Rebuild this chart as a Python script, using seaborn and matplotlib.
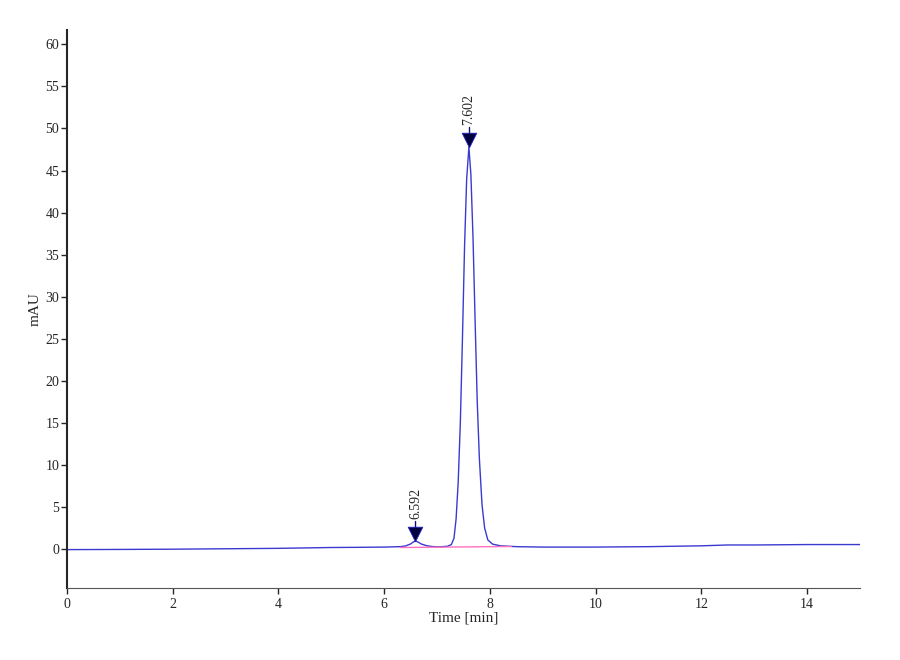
import matplotlib
matplotlib.use("Agg")
import matplotlib.pyplot as plt
import seaborn as sns
import pandas as pd

# chromatogram trace (time in min, signal in mAU)
time_min = [0.0, 1.0, 2.0, 3.0, 4.0, 5.0, 5.5, 6.0, 6.3, 6.4, 6.5, 6.55, 6.592,
            6.64, 6.7, 6.8, 6.9, 7.0, 7.1, 7.2, 7.27, 7.32, 7.36, 7.40, 7.44,
            7.48, 7.52, 7.56, 7.602, 7.64, 7.68, 7.72, 7.76, 7.80, 7.85, 7.90,
            7.96, 8.05, 8.2, 8.5, 9.0, 10.0, 11.0, 12.0, 12.5, 13.0, 14.0, 15.0]
signal_mau = [-0.05, -0.03, 0.0, 0.05, 0.1, 0.2, 0.22, 0.25, 0.3, 0.38, 0.62, 0.85, 0.98,
              0.85, 0.62, 0.42, 0.32, 0.28, 0.3, 0.35, 0.55, 1.3, 3.6, 8.0, 15.0,
              25.0, 36.0, 44.0, 47.8, 44.5, 37.0, 27.0, 17.5, 10.8, 5.3, 2.5,
              1.1, 0.6, 0.4, 0.3, 0.25, 0.25, 0.3, 0.4, 0.5, 0.5, 0.55, 0.55]

# integration baseline under the peaks
base_time = [6.3, 8.4]
base_mau = [0.2, 0.32]

# peak labels
peak_rt = [6.592, 7.602]
peak_top = [0.98, 47.8]
peak_labels = ["6.592", "7.602"]

df = pd.DataFrame({"Time": time_min, "mAU": signal_mau})

sns.set_style("ticks")
plt.rcParams["font.family"] = ["Liberation Serif", "DejaVu Serif"]

fig = plt.figure(figsize=(9, 6.6), dpi=100)
ax = fig.add_axes([0.0744, 0.109, 0.8812, 0.8455])

sns.lineplot(data=df, x="Time", y="mAU", color="#3a3ad0", linewidth=1.0,
             estimator=None, ax=ax)
ax.plot(base_time, base_mau, color="#ff70c0", linewidth=1.0)

for rt, top, lab in zip(peak_rt, peak_top, peak_labels):
    # small stem + down-pointing triangle, label above
    ax.plot([rt, rt], [top + 1.4, top + 2.4], color="#101070", linewidth=1.0)
    ax.scatter([rt], [top + 0.85], marker="v", s=110, color="#000040",
               edgecolor="#2020c0", linewidths=0.6, zorder=5)
    ax.text(rt, top + 2.6, lab, rotation=90, ha="center", va="bottom",
            fontsize=10)

ax.set_xlim(0, 15)
ax.set_ylim(-4.62, 61.7)
ax.set_xticks(range(0, 15, 2))
ax.set_yticks(range(0, 61, 5))
ax.tick_params(labelsize=10, length=4, width=1, direction="out")
ax.tick_params(axis="y", pad=1.5)
ax.set_xlabel("Time [min]", fontsize=11, labelpad=0)
ax.set_ylabel("mAU", fontsize=11, labelpad=3)

sns.despine(ax=ax)
ax.spines["left"].set_linewidth(1.5)
ax.spines["bottom"].set_color("#555555")

fig.savefig("out.png", dpi=100)
